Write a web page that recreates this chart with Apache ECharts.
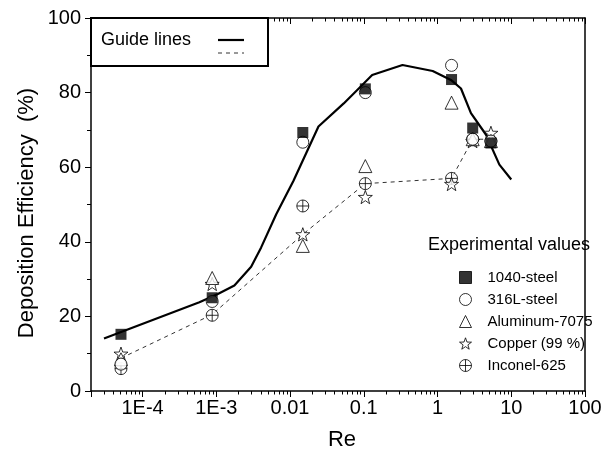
<!DOCTYPE html>
<html>
<head>
<meta charset="utf-8">
<script src="https://cdn.jsdelivr.net/npm/echarts@6/dist/echarts.min.js"></script>
<style>
  html, body { margin: 0; padding: 0; background: #fff; }
  #chart { width: 615px; height: 458px; }
</style>
</head>
<body>
<div id="chart"></div>
<script>
// Reynolds numbers at which the deposition tests were run
const reGroups = [5.1e-5, 8.8e-4, 0.0149, 0.105, 1.55, 3.0, 5.3];

// Deposition efficiency (%) per material
const steel1040    = [15.2, 25.0, 69.3, 81.0, 83.5, 70.5, 66.5];
const steel316L    = [7.2, 24.0, 66.7, 80.0, 87.3, 67.5, 67.0];
const aluminum7075 = [8.5, 30.3, 38.9, 60.3, 77.3, 67.5, 67.0];
const copper99     = [10.0, 28.7, 42.0, 52.0, 55.5, 67.0, 69.2];
const inconel625   = [6.0, 20.3, 49.6, 55.6, 57.0, 67.5, 67.0];

// Guide lines
const guideSolidRe  = [3.0e-5, 5.9e-4, 1.05e-3, 1.76e-3, 2.97e-3, 4.06e-3, 6.5e-3, 0.0111, 0.0243, 0.0535, 0.0855, 0.13, 0.335, 0.86, 1.52, 2.08, 2.84, 4.55, 6.9, 10.0];
const guideSolidEff = [14.1, 23.8, 26.0, 28.3, 33.3, 38.5, 47.4, 56.3, 70.9, 77.1, 81.1, 84.7, 87.4, 85.8, 83.4, 81.1, 74.5, 68.7, 60.7, 56.7];
const guideDashedRe  = [5.1e-5, 8.8e-4, 0.0149, 0.105, 1.55, 3.0, 5.3];
const guideDashedEff = [8.8, 20.5, 42.0, 55.6, 57.0, 67.5, 67.5];

// Axis labels
const xTickExponents = [-4, -3, -2, -1, 0, 1, 2];
const xTickLabels = ['1E-4', '1E-3', '0.01', '0.1', '1', '10', '100'];
const yTickLabels = ['0', '20', '40', '60', '80', '100'];
const xTitle = 'Re';
const yTitle = 'Deposition Efficiency  (%)';

const FONT = 'Liberation Sans, Arial, Helvetica, sans-serif';
const X_MIN = 2e-5, X_MAX = 100;

// minor tick values (2..9 x 10^k) inside the axis range
const minorValues = [];
for (let k = -5; k <= 1; k++) {
  for (let m = 2; m <= 9; m++) {
    const v = m * Math.pow(10, k);
    if (v > X_MIN * 1.0001 && v < X_MAX) minorValues.push(v);
  }
}

const pair = (xs, ys) => xs.map((x, i) => [x, ys[i]]);

const starPath = 'path://M0,-10 L2.35,-3.24 L9.51,-3.09 L3.80,1.24 L5.88,8.09 L0,4 L-5.88,8.09 L-3.80,1.24 L-9.51,-3.09 L-2.35,-3.24 Z';
const crossCirclePath = 'path://M10,0 A10,10 0 1,1 -10,0 A10,10 0 1,1 10,0 Z M-10,0 L10,0 M0,-10 L0,10';

const hollow = { color: '#fff', borderColor: '#000', borderWidth: 1 };

const chart = echarts.init(document.getElementById('chart'), null, { renderer: 'canvas' });

const logLabel = function (v) {
  const lv = Math.log10(v);
  const e = Math.round(lv);
  if (Math.abs(lv - e) > 1e-6) return '';
  const idx = xTickExponents.indexOf(e);
  return idx >= 0 ? xTickLabels[idx] : '';
};

chart.setOption({
  animation: false,
  backgroundColor: '#fff',
  grid: { left: 91, right: 30, top: 18, bottom: 67, containLabel: false },
  xAxis: [
    {
      type: 'log', logBase: 10, min: X_MIN, max: X_MAX, position: 'bottom',
      axisLine: { onZero: false, lineStyle: { color: '#000', width: 1.5 } },
      axisTick: { show: true, inside: false, length: 6, lineStyle: { color: '#000', width: 1 } },
      axisLabel: { fontFamily: FONT, fontSize: 20, color: '#000', margin: 7, formatter: logLabel },
      splitLine: { show: false }
    },
    {
      type: 'log', logBase: 10, min: X_MIN, max: X_MAX, position: 'top',
      axisLine: { onZero: false, lineStyle: { color: '#000', width: 1.5 } },
      axisTick: { show: true, inside: true, length: 6, lineStyle: { color: '#000', width: 1 } },
      axisLabel: { show: false },
      splitLine: { show: false }
    }
  ],
  yAxis: [
    {
      type: 'value', min: 0, max: 100, interval: 20, position: 'left',
      axisLine: { show: true, onZero: false, lineStyle: { color: '#000', width: 1.5 } },
      axisTick: { show: true, inside: false, length: 6, lineStyle: { color: '#000', width: 1 } },
      minorTick: { show: true, splitNumber: 2, length: 4, lineStyle: { color: '#000', width: 1 } },
      axisLabel: {
        fontFamily: FONT, fontSize: 20, color: '#000', margin: 10,
        formatter: function (v) { return yTickLabels[Math.round(v / 20)]; }
      },
      splitLine: { show: false }
    },
    {
      type: 'value', min: 0, max: 100, position: 'right',
      axisLine: { show: true, onZero: false, lineStyle: { color: '#000', width: 1.5 } },
      axisTick: { show: false }, axisLabel: { show: false }, splitLine: { show: false }
    }
  ],
  legend: {
    data: ['1040-steel', '316L-steel', 'Aluminum-7075', 'Copper (99 %)', 'Inconel-625'],
    orient: 'vertical', left: 459, top: 270, padding: 0,
    itemWidth: 12, itemHeight: 12, itemGap: 7,
    selectedMode: false,
    itemStyle: { borderWidth: 1 },
    textStyle: { fontFamily: FONT, fontSize: 15, color: '#000', padding: [0, 0, 0, 11] }
  },
  series: [
    {
      name: 'guideSolid', type: 'line', z: 1, symbol: 'none', silent: true,
      data: pair(guideSolidRe, guideSolidEff),
      lineStyle: { color: '#000', width: 2.2 }
    },
    {
      name: 'guideDashed', type: 'line', z: 1, symbol: 'none', silent: true,
      data: pair(guideDashedRe, guideDashedEff),
      lineStyle: { color: '#333', width: 1, type: [4, 4] }
    },
    {
      name: 'Inconel-625', type: 'scatter', z: 2, symbol: crossCirclePath, symbolSize: 12, symbolKeepAspect: true,
      itemStyle: hollow, data: pair(reGroups, inconel625)
    },
    {
      name: 'Copper (99 %)', type: 'scatter', z: 3, symbol: starPath, symbolSize: 14, symbolKeepAspect: true,
      itemStyle: hollow, data: pair(reGroups, copper99)
    },
    {
      name: 'Aluminum-7075', type: 'scatter', z: 4, symbol: 'triangle', symbolSize: 13, symbolKeepAspect: true,
      itemStyle: hollow, data: pair(reGroups, aluminum7075)
    },
    {
      name: '316L-steel', type: 'scatter', z: 5, symbol: 'circle', symbolSize: 12, symbolKeepAspect: true,
      itemStyle: hollow, data: pair(reGroups, steel316L)
    },
    {
      name: '1040-steel', type: 'scatter', z: 6, symbol: 'rect', symbolSize: 11, symbolKeepAspect: true,
      itemStyle: { color: '#000', borderColor: '#000', borderWidth: 0 }, data: pair(reGroups, steel1040)
    }
  ]
});

// Minor ticks of the logarithmic axis (bottom outward, top inward), placed through the axis scale
const yBottom = chart.convertToPixel({ yAxisIndex: 0 }, 0);
const yTop = chart.convertToPixel({ yAxisIndex: 0 }, 100);
const tickElements = [];
minorValues.forEach(function (v) {
  const px = Math.round(chart.convertToPixel({ xAxisIndex: 0 }, v)) + 0.5;
  tickElements.push({
    type: 'line', silent: true,
    shape: { x1: px, y1: yBottom, x2: px, y2: yBottom + 3.5 },
    style: { stroke: '#000', lineWidth: 1 }
  });
  tickElements.push({
    type: 'line', silent: true,
    shape: { x1: px, y1: yTop, x2: px, y2: yTop + 3.5 },
    style: { stroke: '#000', lineWidth: 1 }
  });
});

chart.setOption({
  graphic: tickElements.concat([
    // axis titles
    {
      type: 'text', silent: true, x: 27, y: 213, rotation: Math.PI / 2,
      style: { text: yTitle, font: '22px ' + FONT, fill: '#000', align: 'center', verticalAlign: 'middle' }
    },
    {
      type: 'text', silent: true, x: 342, y: 440,
      style: { text: xTitle, font: '22px ' + FONT, fill: '#000', align: 'center', verticalAlign: 'middle' }
    },
    // guide-line key box
    {
      type: 'rect', z: 10,
      shape: { x: 91, y: 18, width: 177, height: 48 },
      style: { fill: '#fff', stroke: '#000', lineWidth: 2 }
    },
    {
      type: 'text', z: 11, left: 101, top: 31,
      style: { text: 'Guide lines', font: '18px ' + FONT, fill: '#000' }
    },
    {
      type: 'line', z: 11,
      shape: { x1: 218, y1: 40, x2: 244, y2: 40 },
      style: { stroke: '#000', lineWidth: 2.2 }
    },
    {
      type: 'line', z: 11,
      shape: { x1: 218, y1: 53, x2: 244, y2: 53 },
      style: { stroke: '#333', lineWidth: 1, lineDash: [4, 4] }
    },
    {
      type: 'text', z: 11, left: 428, top: 236,
      style: { text: 'Experimental values', font: '18px ' + FONT, fill: '#000' }
    }
  ])
});
</script>
</body>
</html>
